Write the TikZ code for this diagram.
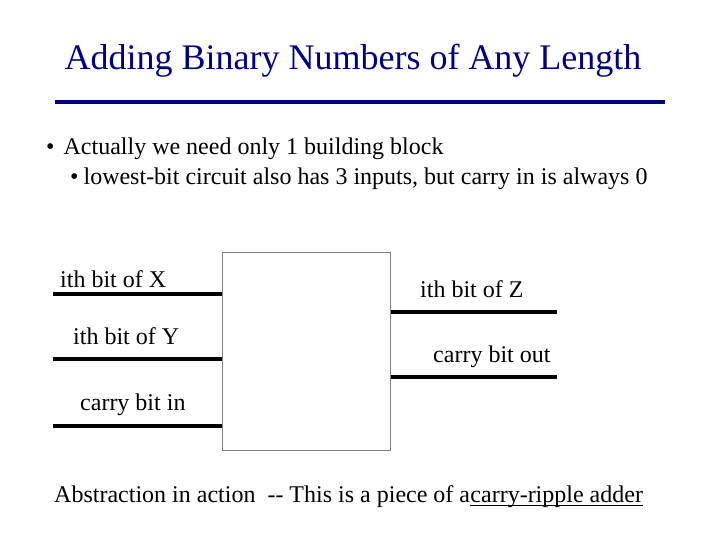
\documentclass[tikz,border=0pt]{standalone}
\usepackage{fontspec}
\setmainfont{Liberation Serif}
\definecolor{navy}{RGB}{0,0,128}
\begin{document}
\begin{tikzpicture}[x=1pt,y=-1pt,
  txt/.style={anchor=base west,inner sep=0pt,font=\fontsize{24}{28}\selectfont},
  wire/.style={line width=3.5pt}]
\useasboundingbox (0,0) rectangle (720,540);
\node[anchor=base,inner sep=0pt,text=navy,font=\fontsize{36}{42}\selectfont] (title) at (353,70) {Adding Binary Numbers of Any Length};
\draw[navy,line width=4pt] (55,102) coordinate (r1) -- (665,102) coordinate (r2);
\node[txt] (b1) at (46,155) {•\hspace{9pt}Actually we need only 1 building block};
\node[txt] (b2) at (70,185) {•\hspace{5pt}lowest-bit circuit also has 3 inputs, but carry in is always 0};
\node[draw=gray,line width=0.8pt,minimum width=168pt,minimum height=198pt,anchor=north west,inner sep=0pt] (box) at (222,252) {};
\node[txt] (lx) at (60,287) {ith bit of X};
\node[txt] (ly) at (73,344) {ith bit of Y};
\node[txt] (lc) at (80,410) {carry bit in};
\node[txt] (lz) at (420,297) {ith bit of Z};
\node[txt] (lo) at (433,362) {carry bit out};
\coordinate (ix) at (53,294); \coordinate (iy) at (53,359); \coordinate (ic) at (53,426);
\coordinate (oz) at (557,312); \coordinate (oo) at (557,377);
\draw[wire] (ix) -- (ix -| box.west);
\draw[wire] (iy) -- (iy -| box.west);
\draw[wire] (ic) -- (ic -| box.west);
\draw[wire] (oz -| box.east) -- (oz);
\draw[wire] (oo -| box.east) -- (oo);
\node[txt] (ab) at (54,502) {Abstraction in action \ -{}- This is a piece of a\ };
\node[txt] (ul) at (ab.base east) {carry-ripple adder};
\draw[line width=1pt] ([yshift=-3pt]ul.base west) -- ([yshift=-3pt]ul.base east);
\end{tikzpicture}
\end{document}
